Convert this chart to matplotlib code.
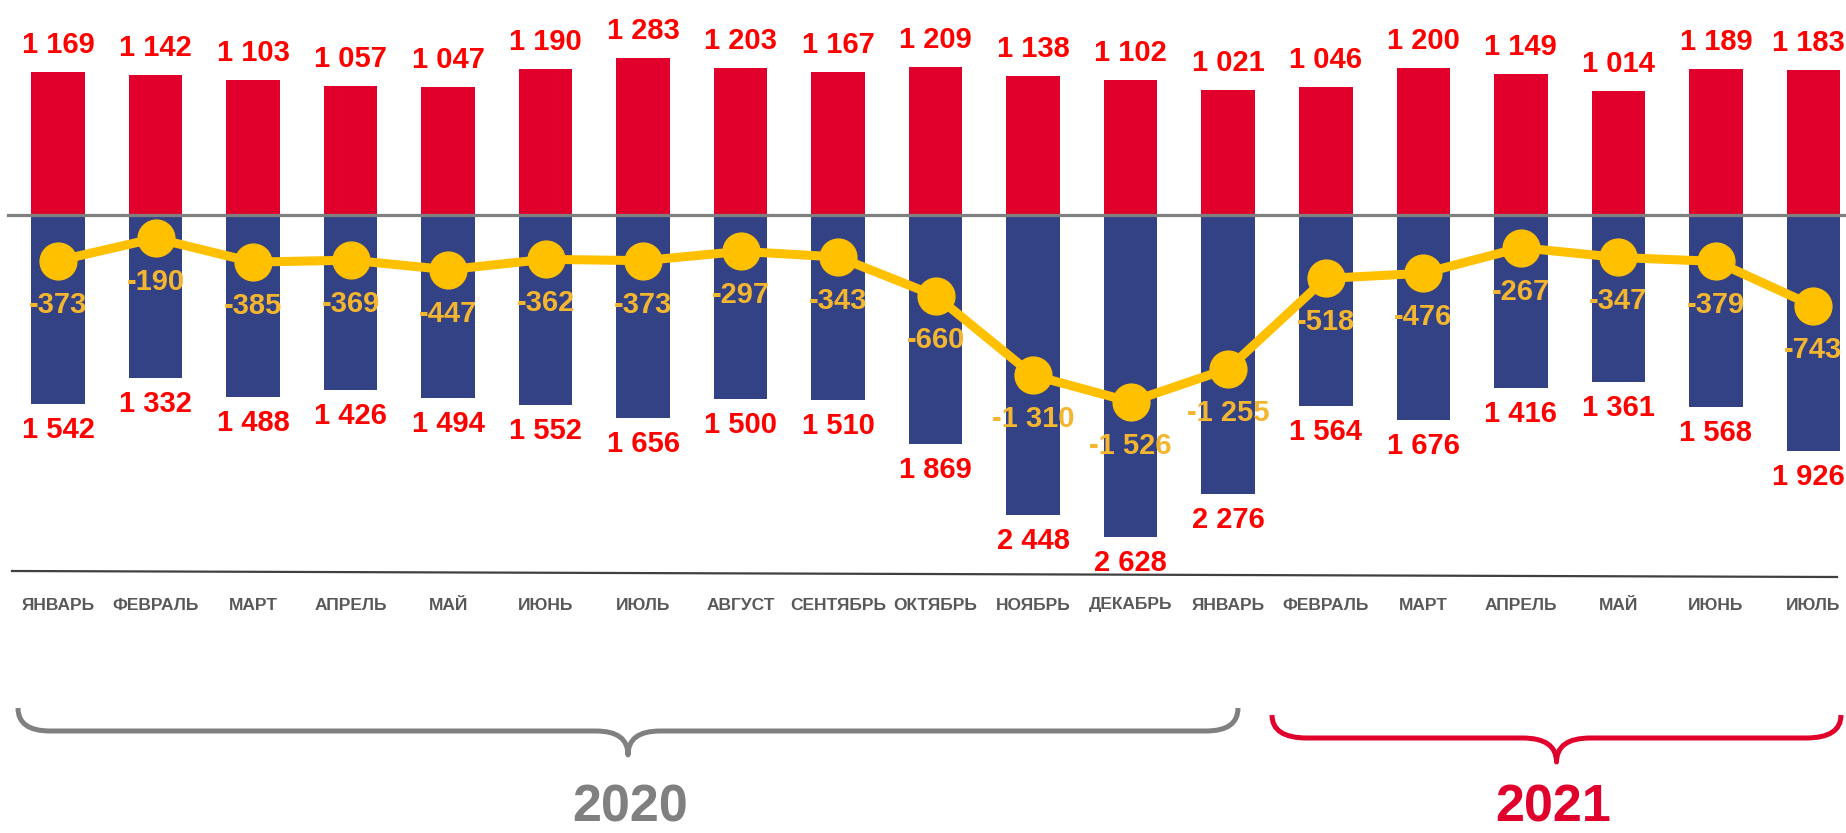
import matplotlib
matplotlib.use("Agg")
import matplotlib.pyplot as plt
from matplotlib.path import Path
from matplotlib.patches import PathPatch
import numpy as np

plt.rcParams['font.family'] = ['Liberation Sans', 'DejaVu Sans']

# ---- data ----
months = ["ЯНВАРЬ", "ФЕВРАЛЬ", "МАРТ", "АПРЕЛЬ", "МАЙ", "ИЮНЬ", "ИЮЛЬ", "АВГУСТ",
          "СЕНТЯБРЬ", "ОКТЯБРЬ", "НОЯБРЬ", "ДЕКАБРЬ",
          "ЯНВАРЬ", "ФЕВРАЛЬ", "МАРТ", "АПРЕЛЬ", "МАЙ", "ИЮНЬ", "ИЮЛЬ"]
positive = [1169, 1142, 1103, 1057, 1047, 1190, 1283, 1203, 1167, 1209, 1138, 1102,
            1021, 1046, 1200, 1149, 1014, 1189, 1183]
negative = [1542, 1332, 1488, 1426, 1494, 1552, 1656, 1500, 1510, 1869, 2448, 2628,
            2276, 1564, 1676, 1416, 1361, 1568, 1926]
net = [-373, -190, -385, -369, -447, -362, -373, -297, -343, -660, -1310, -1526,
       -1255, -518, -476, -267, -347, -379, -743]
years = ["2020", "2021"]


def fmt(v):
    s = f"{abs(v):,}".replace(",", " ")
    return ("-" if v < 0 else "") + s


W, H = 1846, 833
fig = plt.figure(figsize=(W / 100, H / 100), dpi=100)

# main data axes covering the whole figure
ax = fig.add_axes([0, 0, 1, 1])
x = np.arange(len(months))
spacing = 97.52
x0px = 58.0
zero_px = 215.0
scale = 0.1224  # px per unit
ax.set_xlim(-x0px / spacing, (W - x0px) / spacing)
ax.set_ylim(-(H - zero_px) / scale, zero_px / scale)
ax.axis('off')

red_bar = '#E0002B'
blue_bar = '#334285'
yellow = '#FFC000'
label_red = '#FF0000'
label_yel = '#F4B52F'
fs = 21

bw = 53.5 / spacing
ax.bar(x, positive, width=bw, color=red_bar, zorder=2)
ax.bar(x, [-v for v in negative], width=bw, color=blue_bar, zorder=2)

# zero line
ax.axhline(0, xmin=8 / W, xmax=1.0, color='#808080', lw=2.3, zorder=3)

# net line
ax.plot(x, net, color=yellow, lw=6.5, marker='o', markersize=26.5,
        markerfacecolor=yellow, markeredgecolor=yellow, zorder=4,
        solid_joinstyle='round')

labels = []
for i in range(len(months)):
    labels.append(ax.annotate(fmt(positive[i]), (x[i], positive[i]), xytext=(0, 19),
                  textcoords='offset pixels', ha='center', va='baseline',
                  fontsize=fs, fontweight='bold', color=label_red, zorder=5,
                  annotation_clip=False))
    labels.append(ax.annotate(fmt(negative[i]), (x[i], -negative[i]), xytext=(0, -12),
                  textcoords='offset pixels', ha='center', va='top',
                  fontsize=fs, fontweight='bold', color=label_red, zorder=5,
                  annotation_clip=False))
    labels.append(ax.annotate(fmt(net[i]), (x[i], net[i]), xytext=(0, -44),
                  textcoords='offset pixels', ha='center', va='center',
                  fontsize=fs, fontweight='bold', color=label_yel, zorder=5,
                  annotation_clip=False))

# keep labels inside the figure at the right edge
fig.canvas.draw()
renderer = fig.canvas.get_renderer()
for t in labels:
    bb = t.get_window_extent(renderer)
    over = bb.x1 - (W - 1)
    if over > 0:
        ox, oy = t.xyann
        t.xyann = (ox - over, oy)

# overlay axes in pixel coordinates for decorations
ov = fig.add_axes([0, 0, 1, 1], facecolor='none')
ov.set_xlim(0, W)
ov.set_ylim(H, 0)
ov.axis('off')

for i in range(len(months)):
    xp = x0px + spacing * i
    ov.text(xp, 605, months[i], ha='center', va='center', fontsize=12.5,
            fontweight='bold', color='#595959')

# bottom axis line
ov.plot([12, 1837], [571, 577], color='#404040', lw=1.6)


def brace(ax_, xa, xb, ytop, ymid, ytip, r, t, color):
    xc = (xa + xb) / 2
    verts = [(xa, ytop), (xa, ymid), (xa + r, ymid),
             (xc - t, ymid), (xc, ymid), (xc, ytip),
             (xc, ymid), (xc + t, ymid),
             (xb - r, ymid), (xb, ymid), (xb, ytop)]
    codes = [Path.MOVETO, Path.CURVE3, Path.CURVE3,
             Path.LINETO, Path.CURVE3, Path.CURVE3,
             Path.CURVE3, Path.CURVE3,
             Path.LINETO, Path.CURVE3, Path.CURVE3]
    ax_.add_patch(PathPatch(Path(verts, codes), fill=False, edgecolor=color,
                            lw=3.6, capstyle='butt', joinstyle='round'))


brace(ov, 18, 1238, 708, 731, 755, 32, 32, '#808080')
brace(ov, 1272, 1841, 715, 738, 762, 35, 34, red_bar)

ov.text(630, 832, years[0], ha='center', va='bottom', fontsize=37.5,
        fontweight='bold', color='#808080')
ov.text(1553, 832, years[1], ha='center', va='bottom', fontsize=37.5,
        fontweight='bold', color=red_bar)

fig.savefig('out.png', dpi=100, facecolor='white')
